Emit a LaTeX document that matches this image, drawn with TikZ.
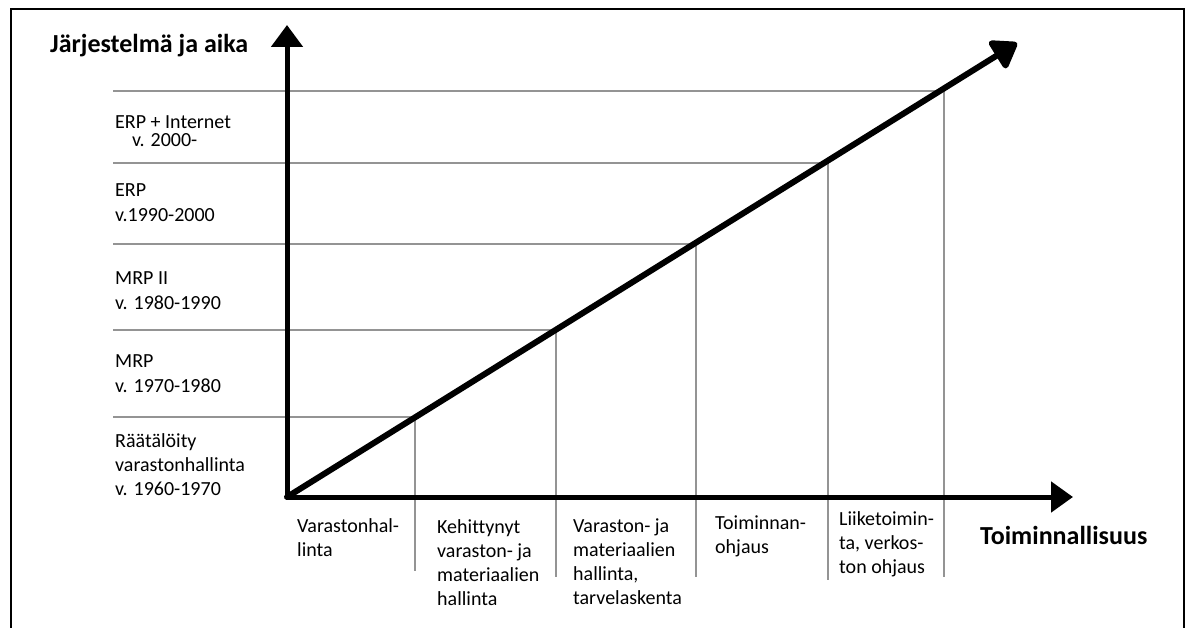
\documentclass[tikz,border=0pt]{standalone}
\usepackage{fontspec}
\setmainfont{Carlito}[Ligatures={NoCommon}]
\usetikzlibrary{arrows.meta}
\tikzset{
  axis/.style={line width=5pt},
  guide/.style={draw=black!42, line width=1.2pt},
  lbl/.style={anchor=base west, inner sep=0pt, align=left, font=\fontsize{20}{24}\selectfont},
  ttl/.style={anchor=base west, inner sep=0pt, font=\fontsize{26}{30}\selectfont\bfseries},
}
\begin{document}
\begin{tikzpicture}[x=1pt,y=-1pt]
\useasboundingbox (0,0) rectangle (1192,628);
% frame
\draw[line width=2pt] (11,640) -- (11,9) -- (1184,9) -- (1184,640);
% key points
\coordinate (O) at (287,497);
\coordinate (Ytip) at (287,25);
\coordinate (Xtip) at (1073,497);
\coordinate (Dtip) at (1017,43);
% guide lines (horizontal to diagonal, then down)
\coordinate (g1) at (415,417); \coordinate (g1e) at (415,571); \coordinate (g1s) at (113,417);
\coordinate (g2) at (556,330); \coordinate (g2e) at (556,577); \coordinate (g2s) at (113,330);
\coordinate (g3) at (696,244); \coordinate (g3e) at (696,577); \coordinate (g3s) at (113,244);
\coordinate (g4) at (828,163); \coordinate (g4e) at (828,580); \coordinate (g4s) at (113,163);
\coordinate (g5) at (944,91);  \coordinate (g5e) at (944,577); \coordinate (g5s) at (113,91);
\foreach \i in {1,...,5} {\draw[guide] (g\i s) -- (g\i) -- (g\i e);}
% axes
\draw[axis,-{Triangle[length=22pt,width=31pt]}] (O) -- (Ytip);
\draw[axis,-{Triangle[length=22pt,width=30pt]}] (O) -- (Xtip);
\draw[line width=6pt,line cap=round,-{Triangle[length=27pt,width=36pt,round]}] (O) -- (Dtip);
% titles
\node[ttl] (ty) at (50,53) {Järjestelmä ja aika};
\node[ttl] (tx) at (980,544) {Toiminnallisuus};
% left labels (anchor = baseline of last line)
\node[lbl,font=\fontsize{20}{18}\selectfont] (l5) at (115,147) {ERP + Internet\\\hspace*{17pt}v. 2000-};
\node[lbl,font=\fontsize{20}{25}\selectfont] (l4) at (115,222) {ERP\\v.1990-2000};
\node[lbl,font=\fontsize{20}{25}\selectfont] (l3) at (115,310) {MRP II\\v. 1980-1990};
\node[lbl,font=\fontsize{20}{25}\selectfont] (l2) at (115,392) {MRP\\v. 1970-1980};
\node[lbl] (l1) at (115,495) {Räätälöity\\varastonhallinta\\v. 1960-1970};
% bottom labels
\node[lbl] (b1) at (297,556) {Varastonhal-\\linta};
\node[lbl] (b2) at (437,605) {Kehittynyt\\varaston- ja\\materiaalien\\hallinta};
\node[lbl] (b3) at (573,604) {Varaston- ja\\materiaalien\\hallinta,\\tarvelaskenta};
\node[lbl] (b4) at (715,553) {Toiminnan-\\ohjaus};
\node[lbl] (b5) at (839,573) {Liiketoimin-\\ta, verkos-\\ton ohjaus};
\end{tikzpicture}
\end{document}
